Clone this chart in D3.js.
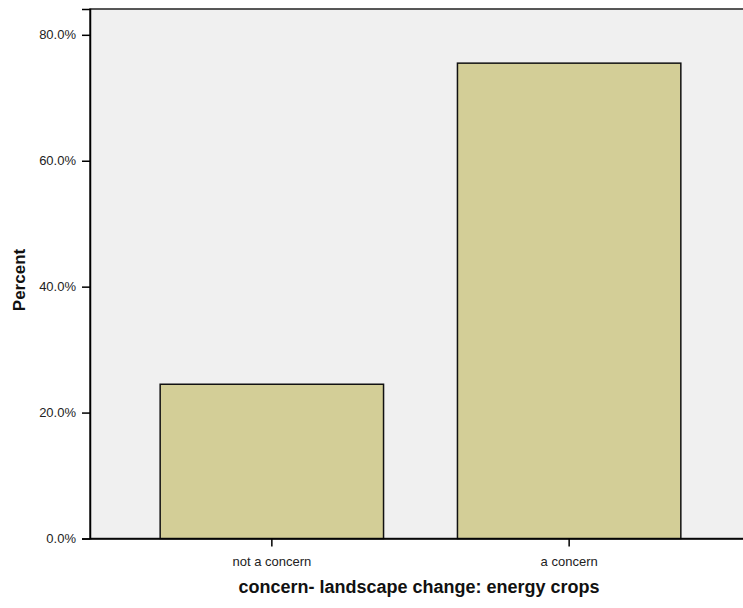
<!DOCTYPE html>
<html><head><meta charset="utf-8">
<script src="https://cdn.jsdelivr.net/npm/d3@7"></script>
<style>body{margin:0;background:#fff;} text{font-family:"Liberation Sans",Arial,sans-serif;}</style>
</head><body>
<svg id="c" width="743" height="608"></svg>
<script>
const categories = ["not a concern", "a concern"];
const percents = [24.5, 75.5];
const yTicks = [0, 20, 40, 60, 80];

const svg = d3.select("#c");
const pLeft = 90, pRight = 751, pTop = 9, pBottom = 538.5;

const x = d3.scaleBand().domain(categories).range([pLeft, pRight]).paddingInner(0.2486).paddingOuter(0.236);
const y = d3.scaleLinear().domain([0, 84.1]).range([pBottom, pTop]);

svg.append("rect").attr("x", pLeft).attr("y", pTop).attr("width", pRight - pLeft).attr("height", pBottom - pTop)
  .attr("fill", "#f0f0f0").attr("stroke", "#222").attr("stroke-width", 1.5);

svg.selectAll("rect.bar").data(percents).join("rect").attr("class", "bar")
  .attr("x", (d, i) => x(categories[i])).attr("width", x.bandwidth())
  .attr("y", d => y(d)).attr("height", d => pBottom - y(d))
  .attr("fill", "#d3ce97").attr("stroke", "#111").attr("stroke-width", 1.5);

const ya = svg.append("g").attr("transform", `translate(${pLeft},0)`)
  .call(d3.axisLeft(y).tickValues(yTicks).tickFormat(d => d.toFixed(1) + "%").tickSize(8).tickPadding(6));
ya.select(".domain").attr("stroke", "#000").attr("stroke-width", 1.5);
ya.selectAll(".tick line").attr("stroke", "#000").attr("stroke-width", 1.5);
ya.selectAll(".tick text").attr("font-size", 13).attr("fill", "#222").style("font-family", "Liberation Sans, Arial, sans-serif");

const xa = svg.append("g").attr("transform", `translate(0,${pBottom})`)
  .call(d3.axisBottom(x).tickSize(8).tickPadding(12).tickSizeOuter(0));
xa.select(".domain").attr("stroke", "#000").attr("stroke-width", 1.5);
xa.selectAll(".tick line").attr("stroke", "#000").attr("stroke-width", 1.5);
xa.selectAll(".tick text").attr("font-size", 13).attr("fill", "#222").attr("dy", null).attr("y", 27)
  .style("font-family", "Liberation Sans, Arial, sans-serif");

svg.append("text").attr("x", 419).attr("y", 593).attr("text-anchor", "middle")
  .attr("font-size", 18).attr("font-weight", "bold").attr("fill", "#111").text("concern- landscape change: energy crops");
svg.append("text").attr("transform", `translate(25,280) rotate(-90)`).attr("text-anchor", "middle")
  .attr("font-size", 17).attr("font-weight", "bold").attr("fill", "#111").text("Percent");
</script>
</body></html>
